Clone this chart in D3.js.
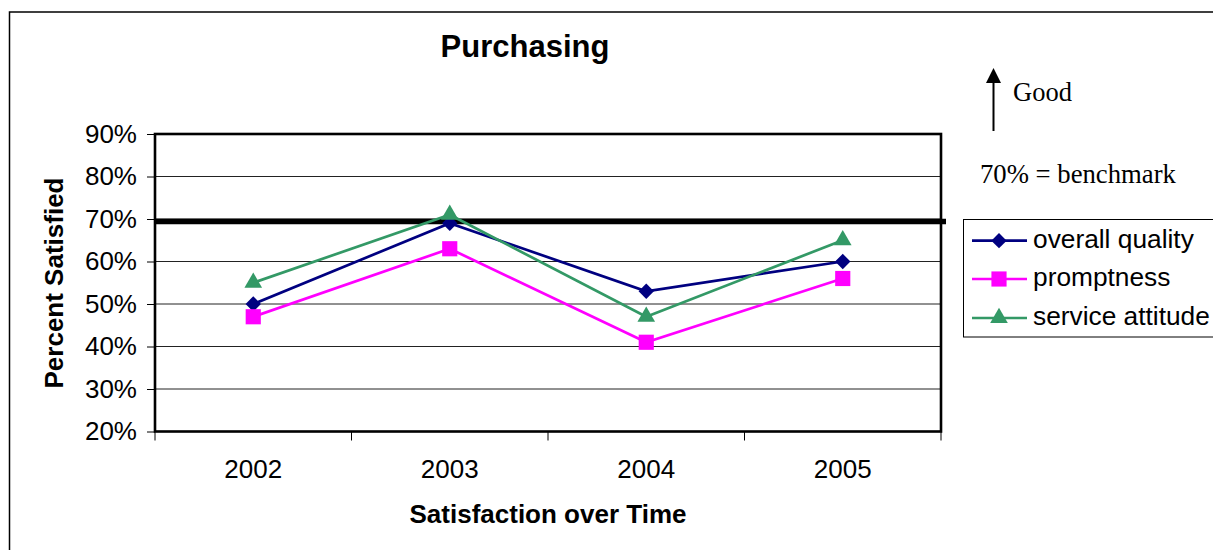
<!DOCTYPE html>
<html>
<head>
<meta charset="utf-8">
<script src="https://cdn.jsdelivr.net/npm/d3@7"></script>
<style>
  html, body { margin: 0; padding: 0; background: #fff; }
  svg { display: block; }
</style>
</head>
<body>
<svg id="chart" width="1213" height="550"></svg>
<script>
// Survey results: share of respondents satisfied with Purchasing
const years = ["2002", "2003", "2004", "2005"];
const overallQuality = [0.50, 0.69, 0.53, 0.60];
const promptness = [0.47, 0.63, 0.41, 0.56];
const serviceAttitude = [0.55, 0.71, 0.47, 0.65];
const yTicks = [0.2, 0.3, 0.4, 0.5, 0.6, 0.7, 0.8, 0.9];
const benchmarkLevel = 0.694;

const series = [
  { name: "overall quality", values: overallQuality, color: "#000080", shape: "diamond" },
  { name: "promptness", values: promptness, color: "#FF00FF", shape: "square" },
  { name: "service attitude", values: serviceAttitude, color: "#339966", shape: "triangle" }
];

const svg = d3.select("#chart");
const plot = { left: 155, right: 941, top: 134, bottom: 431.5 };

const x = d3.scaleBand().domain(years).range([plot.left, plot.right]);
const y = d3.scaleLinear().domain([0.2, 0.9]).range([plot.bottom, plot.top]);
const xc = d => x(d) + x.bandwidth() / 2;

// Outer chart border
svg.append("rect")
  .attr("x", 9.5).attr("y", 12).attr("width", 1230).attr("height", 560)
  .attr("fill", "none").attr("stroke", "#000").attr("stroke-width", 1.5);

// Title
svg.append("text")
  .attr("x", 525).attr("y", 57)
  .attr("text-anchor", "middle")
  .attr("font-family", "Liberation Sans, Arial, sans-serif")
  .attr("font-weight", "bold").attr("font-size", 31)
  .text("Purchasing");

// Horizontal gridlines
svg.append("g").selectAll("line")
  .data(yTicks.filter(t => t > 0.2 && t < 0.9))
  .join("line")
  .attr("x1", plot.left).attr("x2", plot.right)
  .attr("y1", d => y(d)).attr("y2", d => y(d))
  .attr("stroke", "#222").attr("stroke-width", 1);

// Y axis
const yAxis = d3.axisLeft(y).tickValues(yTicks).tickFormat(d3.format(".0%"))
  .tickSize(8).tickPadding(10);
const gy = svg.append("g").attr("transform", `translate(${plot.left},0)`).call(yAxis);
gy.select(".domain").remove();
gy.selectAll(".tick line").attr("stroke", "#000").attr("stroke-width", 1);
gy.selectAll(".tick text")
  .attr("font-family", "Liberation Sans, Arial, sans-serif")
  .attr("font-size", 26).attr("fill", "#000");

// X axis ticks at category boundaries
const xBounds = years.map(d => x(d)).concat([plot.right]);
svg.append("g").selectAll("line")
  .data(xBounds)
  .join("line")
  .attr("x1", d => d).attr("x2", d => d)
  .attr("y1", plot.bottom).attr("y2", plot.bottom + 9)
  .attr("stroke", "#000").attr("stroke-width", 1);

svg.append("g").selectAll("text")
  .data(years)
  .join("text")
  .attr("x", d => xc(d)).attr("y", 478)
  .attr("text-anchor", "middle")
  .attr("font-family", "Liberation Sans, Arial, sans-serif")
  .attr("font-size", 26)
  .text(d => d);

// Plot frame
svg.append("rect")
  .attr("x", plot.left).attr("y", plot.top)
  .attr("width", plot.right - plot.left).attr("height", plot.bottom - plot.top)
  .attr("fill", "none").attr("stroke", "#000").attr("stroke-width", 2.6);

// Axis titles
svg.append("text")
  .attr("x", 548).attr("y", 523)
  .attr("text-anchor", "middle")
  .attr("font-family", "Liberation Sans, Arial, sans-serif")
  .attr("font-weight", "bold").attr("font-size", 26)
  .text("Satisfaction over Time");

svg.append("text")
  .attr("transform", "translate(63,283) rotate(-90)")
  .attr("text-anchor", "middle")
  .attr("font-family", "Liberation Sans, Arial, sans-serif")
  .attr("font-weight", "bold").attr("font-size", 26)
  .text("Percent Satisfied");

// Benchmark line
svg.append("line")
  .attr("x1", plot.left).attr("x2", plot.right + 5)
  .attr("y1", y(benchmarkLevel)).attr("y2", y(benchmarkLevel))
  .attr("stroke", "#000").attr("stroke-width", 5.5);

// Marker shapes
const symbolFor = {
  diamond: d3.symbol().type(d3.symbolDiamond2).size(150),
  square: d3.symbol().type(d3.symbolSquare).size(230),
  triangle: d3.symbol().type(d3.symbolTriangle).size(135)
};

const line = d3.line().x((d, i) => xc(years[i])).y(d => y(d));

series.forEach(s => {
  svg.append("path")
    .datum(s.values)
    .attr("d", line)
    .attr("fill", "none")
    .attr("stroke", s.color)
    .attr("stroke-width", 2.7);
  svg.append("g").selectAll("path")
    .data(s.values)
    .join("path")
    .attr("d", symbolFor[s.shape]())
    .attr("transform", (d, i) => `translate(${xc(years[i])},${y(d)})`)
    .attr("fill", s.color);
});

// Legend
svg.append("rect")
  .attr("x", 963.5).attr("y", 219.5).attr("width", 270).attr("height", 117.5)
  .attr("fill", "#fff").attr("stroke", "#000").attr("stroke-width", 1);

const legendRows = [240.7, 279, 318];
const lg = svg.append("g").selectAll("g")
  .data(series)
  .join("g")
  .attr("transform", (d, i) => `translate(0,${legendRows[i]})`);
lg.append("line")
  .attr("x1", 972).attr("x2", 1027).attr("y1", 0).attr("y2", 0)
  .attr("stroke", d => d.color).attr("stroke-width", 2.7);
lg.append("path")
  .attr("d", d => symbolFor[d.shape]())
  .attr("transform", "translate(999,0)")
  .attr("fill", d => d.color);
lg.append("text")
  .attr("x", 1033).attr("y", 0).attr("dy", "0.26em")
  .attr("font-family", "Liberation Sans, Arial, sans-serif")
  .attr("font-size", 26.3)
  .text(d => d.name);

// "Good" arrow and benchmark note
svg.append("line")
  .attr("x1", 993.5).attr("x2", 993.5).attr("y1", 131).attr("y2", 80)
  .attr("stroke", "#000").attr("stroke-width", 2);
svg.append("path")
  .attr("d", "M993.5,68 L1001,83 L986,83 Z")
  .attr("fill", "#000");
svg.append("text")
  .attr("x", 1013).attr("y", 101)
  .attr("font-family", "Liberation Serif, Times New Roman, serif")
  .attr("font-size", 26.5)
  .text("Good");
svg.append("text")
  .attr("x", 980).attr("y", 183)
  .attr("font-family", "Liberation Serif, Times New Roman, serif")
  .attr("font-size", 26.7)
  .text("70% = benchmark");
</script>
</body>
</html>
